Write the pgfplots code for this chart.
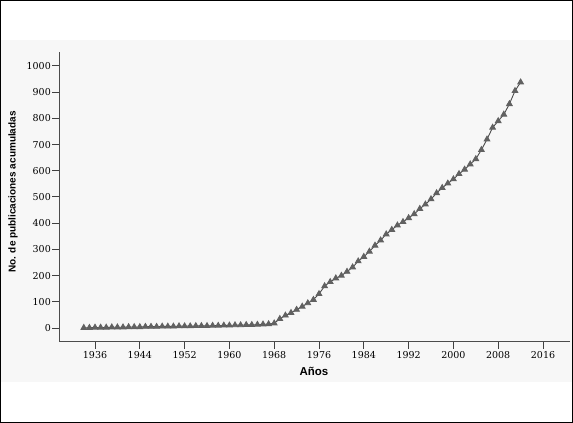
\documentclass[border=0pt]{standalone}
\usepackage{pgfplots}
\pgfplotsset{compat=1.18}
\usepackage{fontspec}
\setmainfont{Liberation Sans}
\newfontfamily\tickfont{DejaVu Serif}
\begin{document}
\begin{tikzpicture}[x=1pt,y=1pt]
\useasboundingbox (0,0) rectangle (573,423);
\fill[white] (0,0) rectangle (573,423);
\fill[black!3] (0,41) rectangle (573,383);
\draw[black, line width=1pt] (0.5,0.5) rectangle (572.5,422.5);
\begin{axis}[
  at={(59pt,81pt)}, anchor=south west,
  scale only axis, width=511pt, height=290pt,
  xmin=1929.57, xmax=2020.82, ymin=-53.4, ymax=1053.4,
  axis x line=bottom, axis y line=left,
  axis line style={-, draw=black!70, line width=1pt},
  xtick={1936,1944,...,2016}, ytick={0,100,...,1000},
  tick align=outside, major tick length=7pt,
  tick style={draw=black!75, line width=1pt},
  /pgf/number format/assume math mode=true,
  /pgf/number format/set thousands separator={},
  tick label style={font=\tickfont\fontsize{9.5}{10}\selectfont, text=black},
  x tick label style={inner sep=2pt},
  y tick label style={inner sep=1pt},
  xlabel={Años}, ylabel={No. de publicaciones acumuladas},
  xlabel style={at={(axis description cs:0.499,-0.103)}, anchor=center, font=\bfseries\fontsize{11.5}{12}\selectfont},
  ylabel style={at={(axis description cs:-0.090,0.517)}, anchor=center, font=\bfseries\fontsize{10}{11}\selectfont},
]
\addplot[color=black!70, line width=0.9pt, mark=triangle*, mark size=3.2pt, mark options={fill=black!62, draw=black!62}] coordinates {
(1934,1) (1935,1) (1936,2) (1937,2) (1938,2) (1939,3) (1940,3) (1941,3) (1942,4) (1943,4)
(1944,4) (1945,5) (1946,5) (1947,5) (1948,6) (1949,6) (1950,6) (1951,7) (1952,7) (1953,7)
(1954,8) (1955,8) (1956,8) (1957,9) (1958,9) (1959,10) (1960,10) (1961,11) (1962,11) (1963,12)
(1964,12) (1965,13) (1966,14) (1967,15) (1968,18) (1969,35) (1970,48) (1971,58) (1972,70) (1973,82)
(1974,95) (1975,108) (1976,130) (1977,160) (1978,176) (1979,190) (1980,200) (1981,215) (1982,232) (1983,255)
(1984,272) (1985,292) (1986,315) (1987,335) (1988,358) (1989,375) (1990,392) (1991,405) (1992,420) (1993,435)
(1994,455) (1995,472) (1996,492) (1997,515) (1998,535) (1999,552) (2000,568) (2001,588) (2002,605) (2003,625)
(2004,645) (2005,680) (2006,720) (2007,765) (2008,790) (2009,815) (2010,855) (2011,905) (2012,938)
};
\end{axis}
\end{tikzpicture}
\end{document}
